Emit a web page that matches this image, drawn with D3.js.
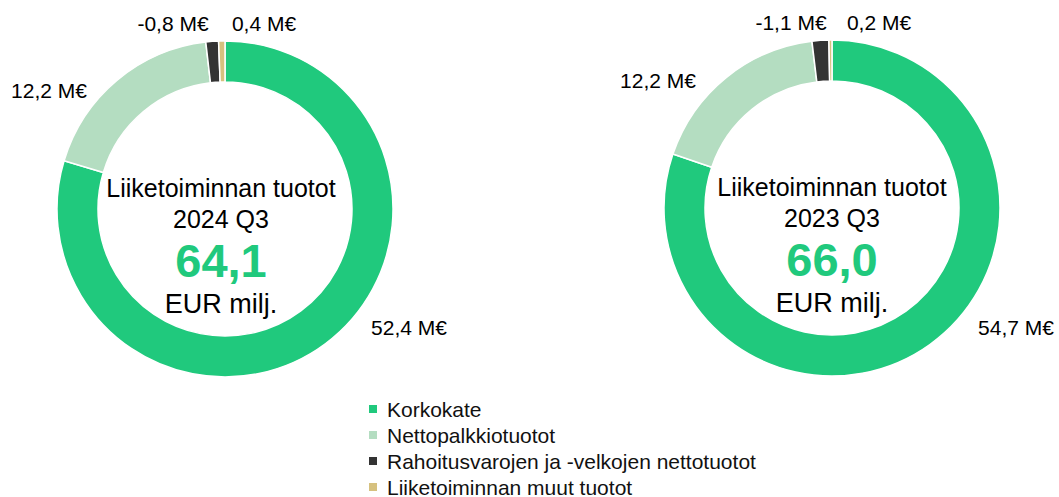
<!DOCTYPE html>
<html>
<head>
<meta charset="utf-8">
<script src="https://cdn.jsdelivr.net/npm/d3@7"></script>
<style>
  body { margin: 0; background: #fff; }
  svg { display: block; font-family: "Liberation Sans", Arial, sans-serif; }
</style>
</head>
<body>
<svg></svg>
<script>
var width = 1059,
	height = 497;

// data
var categories = ["Korkokate", "Nettopalkkiotuotot", "Rahoitusvarojen ja -velkojen nettotuotot", "Liiketoiminnan muut tuotot"];
var values2024 = [52.4, 12.2, -0.8, 0.4];
var values2023 = [54.7, 12.2, -1.1, 0.2];
var periods = ["2024 Q3", "2023 Q3"];
var totals = ["64,1", "66,0"];

var colors = ["#20c97d", "#b4ddc1", "#333333", "#d6c17f"];

// layout: label positions relative to donut centre
var labelOffsets2024 = [[184, 126], [-176, -111], [-52, -178], [39, -178]];
var labelOffsets2023 = [[184, 127], [-174, -120], [-41, -178], [47, -178]];

var charts = [
	{ values: values2024, period: periods[0], total: totals[0], cx: 225, cy: 209, textDx: -4, labels: labelOffsets2024 },
	{ values: values2023, period: periods[1], total: totals[1], cx: 832, cy: 208, textDx: 0, labels: labelOffsets2023 }
];

var svg = d3.select("svg")
	.attr("width", width)
	.attr("height", height);

var outerR = 168, innerR = 127;

var pie = d3.pie()
	.sort(null)
	.value(function(d) { return Math.abs(d); });

var arc = d3.arc()
	.innerRadius(innerR)
	.outerRadius(outerR);

var color = d3.scaleOrdinal().domain(categories).range(colors);

function fmt(v) {
	return String(v.toFixed(1)).replace(".", ",") + " M\u20ac";
}

charts.forEach(function(c) {
	var g = svg.append("g")
		.attr("transform", "translate(" + c.cx + "," + c.cy + ")");

	var arcs = pie(c.values);

	g.selectAll("path")
		.data(arcs)
		.enter()
		.append("path")
		.attr("d", arc)
		.attr("fill", function(d, i) { return color(categories[i]); })
		.attr("stroke", "#fff")
		.attr("stroke-width", 1.5);

	g.selectAll("text.lbl")
		.data(arcs)
		.enter()
		.append("text")
		.attr("class", "lbl")
		.attr("x", function(d, i) { return c.labels[i][0]; })
		.attr("y", function(d, i) { return c.labels[i][1]; })
		.attr("text-anchor", "middle")
		.style("font-size", "21px")
		.style("fill", "#000")
		.text(function(d) { return fmt(d.data); });

	var t = g.append("g").attr("transform", "translate(" + c.textDx + ",0)");
	t.append("text")
		.attr("y", -12)
		.attr("text-anchor", "middle")
		.style("font-size", "25px")
		.text("Liiketoiminnan tuotot");
	t.append("text")
		.attr("y", 19)
		.attr("text-anchor", "middle")
		.style("font-size", "25px")
		.text(c.period);
	t.append("text")
		.attr("y", 68)
		.attr("text-anchor", "middle")
		.style("font-size", "47px")
		.style("font-weight", "bold")
		.style("fill", colors[0])
		.text(c.total);
	t.append("text")
		.attr("y", 104)
		.attr("text-anchor", "middle")
		.style("font-size", "27px")
		.text("EUR milj.");
});

// legend
var legend = svg.append("g")
	.attr("transform", "translate(369,405)");

var rows = legend.selectAll("g")
	.data(categories)
	.enter()
	.append("g")
	.attr("transform", function(d, i) { return "translate(0," + (i * 26) + ")"; });

rows.append("rect")
	.attr("width", 8)
	.attr("height", 8)
	.attr("fill", function(d) { return color(d); });

rows.append("text")
	.attr("x", 18)
	.attr("y", 12)
	.style("font-size", "21px")
	.style("fill", "#111")
	.text(function(d) { return d; });
</script>
</body>
</html>
